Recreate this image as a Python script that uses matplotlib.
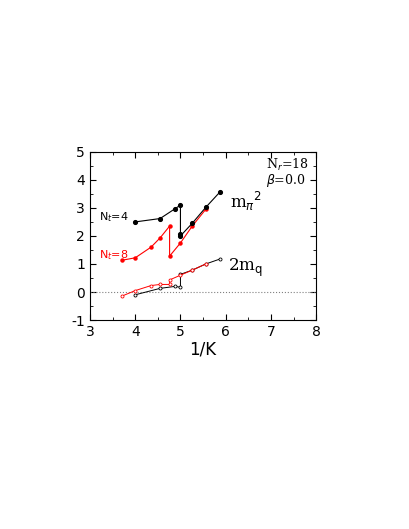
import matplotlib.pyplot as plt
from matplotlib.ticker import MultipleLocator

plt.rcParams['axes.unicode_minus'] = False

# m_pi^2, Nt=4 (black)
mpi4_x = [4.0, 4.55, 4.88, 5.0, 5.0, 5.0, 5.26, 5.56, 5.88]
mpi4_y = [2.5, 2.62, 2.97, 3.1, 2.07, 2.0, 2.45, 3.02, 3.58]
# m_pi^2, Nt=8 (red)
mpi8_x = [3.7, 4.0, 4.35, 4.55, 4.76, 4.76, 5.0, 5.26, 5.56]
mpi8_y = [1.13, 1.22, 1.6, 1.93, 2.35, 1.28, 1.75, 2.35, 2.95]
# 2m_q, Nt=4 (black)
mq4_x = [4.0, 4.55, 4.88, 5.0, 5.0, 5.26, 5.56, 5.88]
mq4_y = [-0.1, 0.13, 0.2, 0.17, 0.63, 0.78, 1.0, 1.18]
# 2m_q, Nt=8 (red)
mq8_x = [3.7, 4.0, 4.35, 4.55, 4.76, 4.76, 5.0, 5.26, 5.56]
mq8_y = [-0.15, 0.05, 0.23, 0.27, 0.27, 0.43, 0.6, 0.78, 1.0]

fig = plt.figure(figsize=(4.09, 5.29), dpi=100)
ax = fig.add_axes([0.22, 0.395, 0.553, 0.318])

ax.axhline(0, color='gray', ls=':', lw=0.8)
ax.plot(mq4_x, mq4_y, '-o', color='black', lw=0.7, ms=2.2, mfc='white', mew=0.6)
ax.plot(mq8_x, mq8_y, '-o', color='red', lw=0.7, ms=2.2, mfc='white', mew=0.6)
ax.plot(mpi8_x, mpi8_y, '-o', color='red', lw=0.8, ms=2.2)
ax.plot(mpi4_x, mpi4_y, '-o', color='black', lw=0.8, ms=2.7)

ax.set_xlim(3, 8)
ax.set_ylim(-1, 5)
ax.xaxis.set_major_locator(MultipleLocator(1))
ax.xaxis.set_minor_locator(MultipleLocator(0.5))
ax.yaxis.set_major_locator(MultipleLocator(1))
ax.yaxis.set_minor_locator(MultipleLocator(0.5))
ax.tick_params(which='both', direction='in', top=True, right=True, labelsize=10)
ax.tick_params(which='major', length=4)
ax.tick_params(which='minor', length=2)
ax.set_xlabel('1/K', fontsize=12, labelpad=1)

ax.text(6.9, 4.4, r'N$_r$=18', fontsize=9, family='serif')
ax.text(6.9, 3.85, r'$\beta$=0.0', fontsize=9, family='serif')
ax.text(6.1, 3.0, r'm$_\pi$$^2$', fontsize=12, family='serif')
ax.text(6.05, 0.75, r'2m$_{\rm q}$', fontsize=12, family='serif')
ax.text(3.2, 2.55, r'N$_t$=4', fontsize=8)
ax.text(3.2, 1.2, r'N$_t$=8', fontsize=8, color='red')

fig.savefig('out.png')
